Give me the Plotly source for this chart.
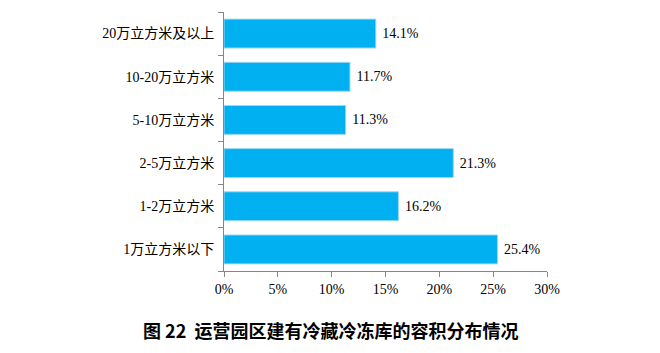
import plotly.graph_objects as go

categories = ["1万立方米以下", "1-2万立方米", "2-5万立方米", "5-10万立方米", "10-20万立方米", "20万立方米及以上"]
values = [25.4, 16.2, 21.3, 11.3, 11.7, 14.1]
x_ticks = [0, 5, 10, 15, 20, 25, 30]
x_tick_labels = ["0%", "5%", "10%", "15%", "20%", "25%", "30%"]
title_text = "图 22  运营园区建有冷藏冷冻库的容积分布情况"

font_family = "Liberation Serif, Noto Sans CJK SC, serif"

fig = go.Figure(go.Bar(
    x=values, y=categories, orientation="h",
    marker=dict(color="#00B0F0", line=dict(color="#9ED8F2", width=1)),
    text=[f"\u00a0{v:.1f}%" for v in values], textposition="outside",
    textfont=dict(family=font_family, size=14, color="#000000"),
    cliponaxis=False,
))

fig.update_layout(
    width=660, height=353,
    margin=dict(l=224, r=113, t=12, b=82),
    paper_bgcolor="white", plot_bgcolor="white",
    bargap=0.33, showlegend=False,
    font=dict(family=font_family, size=14, color="#000000"),
    xaxis=dict(range=[0, 30], tickvals=x_ticks, ticktext=x_tick_labels,
               showgrid=False, zeroline=False, showline=True, linecolor="#868686",
               linewidth=1, ticks="outside", ticklen=5, tickcolor="#868686",
               tickfont=dict(family=font_family, size=14)),
    yaxis=dict(type="category", categoryorder="array", categoryarray=categories,
               showgrid=False, zeroline=False, showline=True, linecolor="#868686",
               linewidth=1, ticks="outside", ticklen=5, tickcolor="#868686",
               tickson="boundaries", ticklabelstandoff=6,
               tickfont=dict(family=font_family, size=14)),
    annotations=[dict(text="<b>" + title_text + "</b>", x=0.5, xref="paper",
                      xanchor="center", xshift=-55,
                      y=-0.228, yref="paper", yanchor="middle", showarrow=False,
                      font=dict(family="Noto Sans CJK SC, sans-serif", size=18, color="#000000"))],
)

fig.write_html("out.html")
